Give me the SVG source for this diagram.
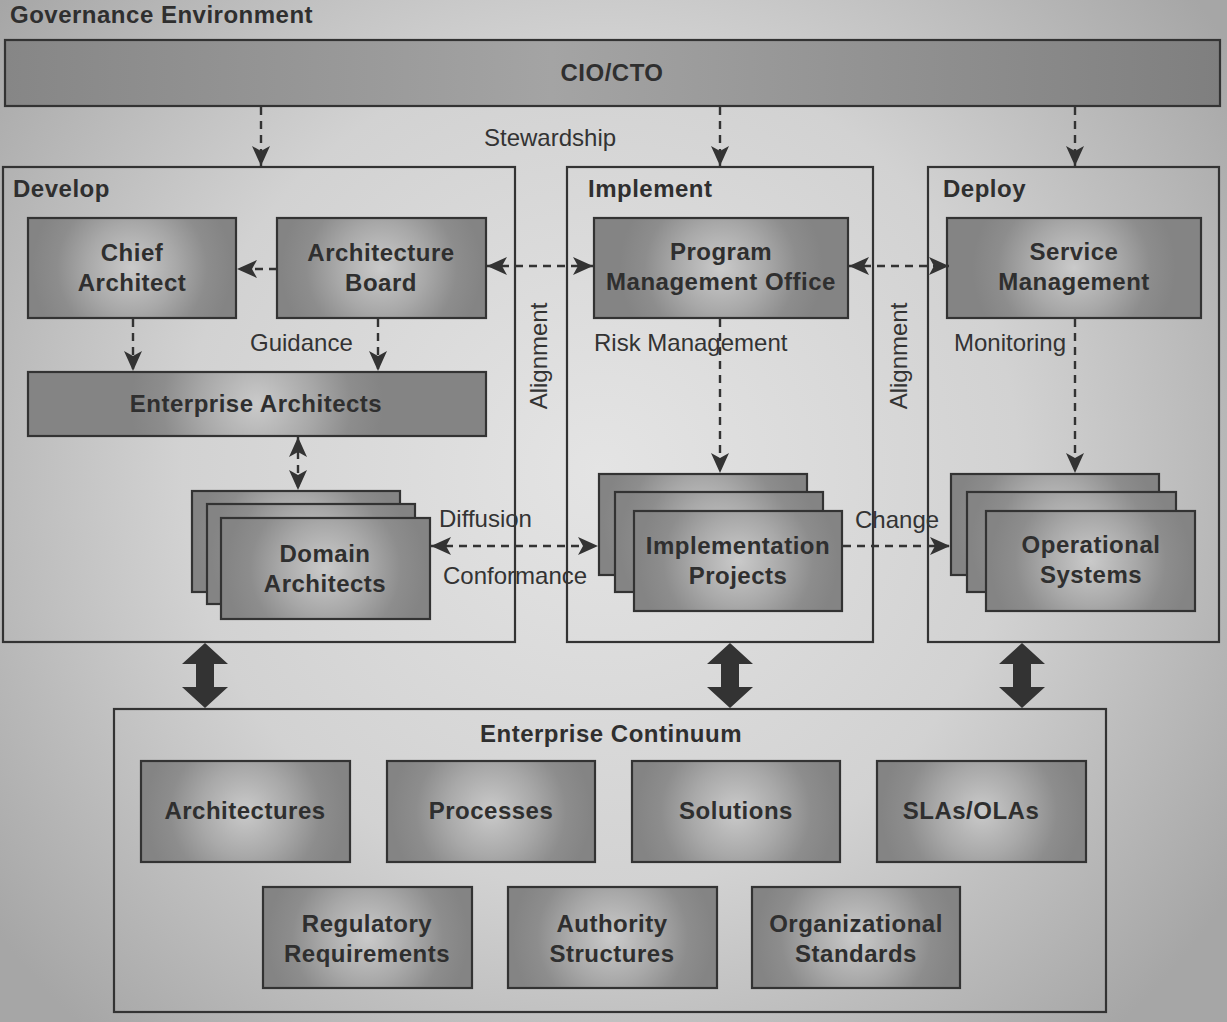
<svg xmlns="http://www.w3.org/2000/svg" width="1227" height="1022" viewBox="0 0 1227 1022">
<defs>
<radialGradient id="bg" gradientUnits="userSpaceOnUse" cx="600" cy="470" r="760">
<stop offset="0" stop-color="#e4e4e4"/>
<stop offset="0.55" stop-color="#d2d2d2"/>
<stop offset="1" stop-color="#a6a6a6"/>
</radialGradient>
<linearGradient id="bar" x1="0" y1="0" x2="1" y2="0">
<stop offset="0" stop-color="#868686"/>
<stop offset="0.45" stop-color="#a4a4a4"/>
<stop offset="1" stop-color="#7f7f7f"/>
</linearGradient>
<radialGradient id="boxg" cx="0.5" cy="0.5" r="0.5" gradientTransform="translate(0.5 0.5) scale(0.96 2) translate(-0.5 -0.5)">
<stop offset="0" stop-color="#cacaca"/>
<stop offset="0.45" stop-color="#a8a8a8"/>
<stop offset="0.75" stop-color="#8d8d8d"/>
<stop offset="1" stop-color="#848484"/>
</radialGradient>
<radialGradient id="boxw" cx="0.5" cy="0.5" r="0.5" gradientTransform="translate(0.5 0.5) scale(0.8 2) translate(-0.5 -0.5)">
<stop offset="0" stop-color="#cacaca"/>
<stop offset="0.45" stop-color="#a8a8a8"/>
<stop offset="0.75" stop-color="#8d8d8d"/>
<stop offset="1" stop-color="#848484"/>
</radialGradient>
<radialGradient id="boxea" cx="0.5" cy="0.5" r="0.5" gradientTransform="translate(0.5 0.5) scale(0.55 3.9) translate(-0.5 -0.5)">
<stop offset="0" stop-color="#cacaca"/>
<stop offset="0.45" stop-color="#a8a8a8"/>
<stop offset="0.75" stop-color="#8d8d8d"/>
<stop offset="1" stop-color="#848484"/>
</radialGradient>
<marker id="ah" markerUnits="userSpaceOnUse" viewBox="0 0 20 18" refX="20" refY="9" markerWidth="20" markerHeight="18" orient="auto-start-reverse">
<path d="M0,0 L20,9 L0,18 L5,9 Z" fill="#333"/>
</marker>
<style>
.box{stroke:#333;stroke-width:2.2}
.g{fill:url(#boxg)}
.w{fill:url(#boxw)}
.frame{fill:none;stroke:#333;stroke-width:2.2}
.bt{font-family:"Liberation Sans",Arial,Helvetica,sans-serif;font-weight:bold;font-size:24px;letter-spacing:0.5px;fill:#2f2f2f;text-anchor:middle}
.hd{font-family:"Liberation Sans",Arial,Helvetica,sans-serif;font-weight:bold;font-size:24px;letter-spacing:0.5px;fill:#2f2f2f}
.lb{font-family:"Liberation Sans",Arial,Helvetica,sans-serif;font-size:24px;fill:#333}
.dl{fill:none;stroke:#333;stroke-width:2.4;stroke-dasharray:8 6}
.one{marker-end:url(#ah)}
.two{marker-start:url(#ah);marker-end:url(#ah)}
.blk{fill:#333}
</style>
</defs>
<rect x="0" y="0" width="1227" height="1022" fill="url(#bg)"/>
<text class="hd" x="10" y="23">Governance Environment</text>

<g id="cio">
<rect class="box" x="5" y="40" width="1215" height="66" fill="url(#bar)"/>
<text class="bt" x="612" y="81">CIO/CTO</text>
</g>

<g id="develop">
<rect class="frame" x="3" y="167" width="512" height="475"/>
<text class="hd" x="13" y="197">Develop</text>
</g>
<g id="implement">
<rect class="frame" x="567" y="167" width="306" height="475"/>
<text class="hd" x="588" y="197">Implement</text>
</g>
<g id="deploy">
<rect class="frame" x="928" y="167" width="291" height="475"/>
<text class="hd" x="943" y="197">Deploy</text>
</g>

<g id="chief-architect">
<rect class="box g" x="28" y="218" width="208" height="100"/>
<text class="bt" x="132" y="261">Chief</text>
<text class="bt" x="132" y="291">Architect</text>
</g>
<g id="architecture-board">
<rect class="box g" x="277" y="218" width="209" height="100"/>
<text class="bt" x="381" y="261">Architecture</text>
<text class="bt" x="381" y="291">Board</text>
</g>
<g id="enterprise-architects">
<rect class="box" x="28" y="372" width="458" height="64" fill="url(#boxea)"/>
<text class="bt" x="256" y="412">Enterprise Architects</text>
</g>
<g id="domain-architects">
<rect class="box g" x="192" y="491" width="208" height="101"/>
<rect class="box g" x="207" y="504" width="208" height="100"/>
<rect class="box g" x="221" y="518" width="209" height="101"/>
<text class="bt" x="325" y="562">Domain</text>
<text class="bt" x="325" y="592">Architects</text>
</g>

<g id="pmo">
<rect class="box w" x="594" y="218" width="254" height="100"/>
<text class="bt" x="721" y="260">Program</text>
<text class="bt" x="721" y="290">Management Office</text>
</g>
<g id="implementation-projects">
<rect class="box g" x="599" y="474" width="208" height="101"/>
<rect class="box g" x="615" y="492" width="208" height="100"/>
<rect class="box g" x="634" y="511" width="208" height="100"/>
<text class="bt" x="738" y="554">Implementation</text>
<text class="bt" x="738" y="584">Projects</text>
</g>

<g id="service-management">
<rect class="box w" x="947" y="218" width="254" height="100"/>
<text class="bt" x="1074" y="260">Service</text>
<text class="bt" x="1074" y="290">Management</text>
</g>
<g id="operational-systems">
<rect class="box g" x="951" y="474" width="208" height="101"/>
<rect class="box g" x="967" y="492" width="209" height="100"/>
<rect class="box g" x="986" y="511" width="209" height="100"/>
<text class="bt" x="1091" y="553">Operational</text>
<text class="bt" x="1091" y="583">Systems</text>
</g>

<g id="enterprise-continuum">
<rect class="frame" x="114" y="709" width="992" height="303"/>
<text class="bt" x="611" y="742">Enterprise Continuum</text>
</g>
<g id="architectures">
<rect class="box g" x="141" y="761" width="209" height="101"/>
<text class="bt" x="245" y="819">Architectures</text>
</g>
<g id="processes">
<rect class="box g" x="387" y="761" width="208" height="101"/>
<text class="bt" x="491" y="819">Processes</text>
</g>
<g id="solutions">
<rect class="box g" x="632" y="761" width="208" height="101"/>
<text class="bt" x="736" y="819">Solutions</text>
</g>
<g id="slas-olas">
<rect class="box g" x="877" y="761" width="209" height="101"/>
<text class="bt" x="971" y="819">SLAs/OLAs</text>
</g>
<g id="regulatory-requirements">
<rect class="box g" x="263" y="887" width="209" height="101"/>
<text class="bt" x="367" y="932">Regulatory</text>
<text class="bt" x="367" y="962">Requirements</text>
</g>
<g id="authority-structures">
<rect class="box g" x="508" y="887" width="209" height="101"/>
<text class="bt" x="612" y="932">Authority</text>
<text class="bt" x="612" y="962">Structures</text>
</g>
<g id="organizational-standards">
<rect class="box g" x="752" y="887" width="208" height="101"/>
<text class="bt" x="856" y="932">Organizational</text>
<text class="bt" x="856" y="962">Standards</text>
</g>

<g id="connectors">
<path class="dl one" d="M261,107 V166"/>
<path class="dl one" d="M720,107 V166"/>
<path class="dl one" d="M1075,107 V166"/>
<path class="dl one" d="M277,269 H237"/>
<path class="dl two" d="M487,266 H593"/>
<path class="dl two" d="M849,266 H949"/>
<path class="dl one" d="M133,319 V371"/>
<path class="dl one" d="M378,319 V371"/>
<path class="dl two" d="M298,437 V490"/>
<path class="dl one" d="M720,319 V473"/>
<path class="dl one" d="M1075,319 V473"/>
<path class="dl two" d="M431,546 H598"/>
<path class="dl one" d="M843,546 H950"/>
<polygon class="blk" points="205,643 228,664 214,664 214,687 228,687 205,708 182,687 196,687 196,664 182,664"/>
<polygon class="blk" points="730,643 753,664 739,664 739,687 753,687 730,708 707,687 721,687 721,664 707,664"/>
<polygon class="blk" points="1022,643 1045,664 1031,664 1031,687 1045,687 1022,708 999,687 1013,687 1013,664 999,664"/>
<text class="lb" x="484" y="146">Stewardship</text>
<text class="lb" x="250" y="351">Guidance</text>
<text class="lb" x="594" y="351">Risk Management</text>
<text class="lb" x="954" y="351">Monitoring</text>
<text class="lb" text-anchor="middle" transform="translate(547 356) rotate(-90)">Alignment</text>
<text class="lb" text-anchor="middle" transform="translate(907 356) rotate(-90)">Alignment</text>
<text class="lb" x="439" y="527">Diffusion</text>
<text class="lb" x="443" y="584">Conformance</text>
<text class="lb" x="855" y="528">Change</text>
</g>
</svg>
